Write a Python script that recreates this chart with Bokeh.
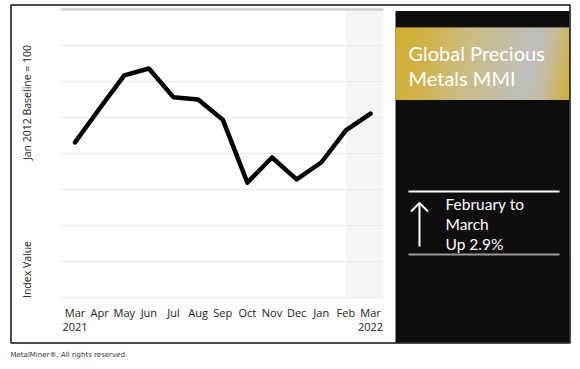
import numpy as np
from bokeh.plotting import figure
from bokeh.models import Range1d
from bokeh.core.properties import value
from bokeh.embed import file_html
from bokeh.resources import INLINE

# ---------------- data ----------------
months = ["Mar", "Apr", "May", "Jun", "Jul", "Aug", "Sep", "Oct", "Nov", "Dec", "Jan", "Feb", "Mar"]
years = ["2021", "", "", "", "", "", "", "", "", "", "", "", "2022"]
index_values = [1831, 1925, 2017, 2036, 1956, 1950, 1894, 1719, 1789, 1728, 1775, 1864, 1911]
grid_values = [1400, 1500, 1600, 1700, 1800, 1900, 2000, 2100, 2200]
y_axis_texts = ["Jan 2012 Baseline = 100", "Index Value"]
title_lines = ["Global Precious", "Metals MMI"]
change_lines = ["February to", "March", "Up 2.9%"]
footer = "MetalMiner\u00ae. All rights reserved."

idx = list(range(len(months)))

# ---------------- layout (page pixel units) ----------------
W, H = 572, 361
IDX0_PX, PX_PER_IDX = 74.5, 24.625          # x position of first month, spacing
YTOP_PX, YBOT_PX = 9.0, 297.0               # pixel rows of top / bottom gridline
YMIN, YMAX = grid_values[0], grid_values[-1]
PX_PER_Y = (YBOT_PX - YTOP_PX) / (YMAX - YMIN)

def px_to_idx(px):
    return (px - IDX0_PX) / PX_PER_IDX

X_LO, X_HI = px_to_idx(60), px_to_idx(383)

p = figure(width=W, height=H, x_range=Range1d(0, W), y_range=Range1d(H, 0),
           output_backend="svg", toolbar_location=None,
           x_axis_location=None, y_axis_location=None, min_border=0)
p.grid.visible = False
p.outline_line_color = None
p.background_fill_color = "white"
p.border_fill_color = "white"

p.extra_x_ranges = {"d": Range1d(px_to_idx(0), px_to_idx(W))}
p.extra_y_ranges = {"d": Range1d(YMIN - (H - YBOT_PX) / PX_PER_Y,
                                 YMAX + YTOP_PX / PX_PER_Y)}

# shaded latest-month region
p.quad(left=[idx[-2]], right=[X_HI], bottom=[YMIN], top=[YMAX],
       fill_color="#f5f5f5", line_color=None, x_range_name="d", y_range_name="d")

# gridlines
p.segment(x0=[X_LO] * (len(grid_values) - 1), x1=[X_HI] * (len(grid_values) - 1),
          y0=grid_values[:-1], y1=grid_values[:-1], line_color="#ebebeb", line_width=1,
          x_range_name="d", y_range_name="d")
p.segment(x0=[X_LO], x1=[X_HI], y0=[grid_values[-1]], y1=[grid_values[-1]],
          line_color="#cfcfcf", line_width=2.5, x_range_name="d", y_range_name="d")

# data line
p.line(x=idx, y=index_values, line_color="black", line_width=4.5,
       line_join="round", line_cap="round", x_range_name="d", y_range_name="d")

# x tick labels
p.text(x=idx, y=[312] * len(idx), text=months, x_range_name="d",
       text_align="center", text_baseline="middle",
       text_font=value("Open Sans"), text_font_size="11px", text_color="#222222")
p.text(x=idx, y=[326] * len(idx), text=years, x_range_name="d",
       text_align="center", text_baseline="middle",
       text_font=value("Open Sans"), text_font_size="11px", text_color="#222222")

# y axis labels
p.text(x=[26, 26], y=[102, 269], text=y_axis_texts, angle=np.pi / 2,
       text_align="center", text_baseline="middle",
       text_font=value("Open Sans"), text_font_size="10.5px", text_color="#222222")

# right panel
p.quad(left=[395], right=[569], top=[10.5], bottom=[342], fill_color="#0e0e0e", line_color=None)

# gold/silver gradient band drawn as slanted strips clipped to the band
BX0, BX1, BY0, BY1 = 395.0, 569.0, 27.0, 99.5
SLANT = 0.2 * (BY1 - BY0)
stops_t = [395, 430, 470, 500, 538, 555, 584]
stops_c = np.array([[213, 176, 50], [210, 180, 75], [205, 190, 130], [200, 192, 160],
                    [193, 193, 193], [200, 190, 160], [214, 175, 50]], dtype=float)

def clip_x(poly, xmin, xmax):
    def clip(pts, inside, inter):
        out = []
        for i in range(len(pts)):
            a, b = pts[i - 1], pts[i]
            ia, ib = inside(a), inside(b)
            if ib:
                if not ia:
                    out.append(inter(a, b))
                out.append(b)
            elif ia:
                out.append(inter(a, b))
        return out
    def ix(xv):
        def f(a, b):
            t = (xv - a[0]) / (b[0] - a[0])
            return (xv, a[1] + t * (b[1] - a[1]))
        return f
    pts = clip(poly, lambda q: q[0] >= xmin, ix(xmin))
    if pts:
        pts = clip(pts, lambda q: q[0] <= xmax, ix(xmax))
    return pts

xs_list, ys_list, cols = [], [], []
step = 1.5
t = BX0
while t < BX1 + SLANT:
    t0, t1 = t, t + step + 0.6
    poly = [(t0, BY0), (t1, BY0), (t1 - SLANT, BY1), (t0 - SLANT, BY1)]
    pts = clip_x(poly, BX0, BX1)
    if len(pts) >= 3:
        tm = t + step / 2
        c = [int(np.interp(tm, stops_t, stops_c[:, k])) for k in range(3)]
        xs_list.append([q[0] for q in pts])
        ys_list.append([q[1] for q in pts])
        cols.append("#%02x%02x%02x" % tuple(c))
    t += step
p.patches(xs=xs_list, ys=ys_list, fill_color=cols, line_color=None)

p.text(x=[408, 408], y=[52, 77], text=title_lines, text_align="left", text_baseline="middle",
       text_font=value("Lato"), text_font_size="20px", text_color="white")

p.segment(x0=[408], x1=[559], y0=[191], y1=[191], line_color="white", line_width=2)
p.segment(x0=[408], x1=[559], y0=[254], y1=[254], line_color="#9a9a9a", line_width=2)
p.segment(x0=[419], x1=[419], y0=[246], y1=[204], line_color="white", line_width=2)
p.line(x=[410.5, 419, 427.5], y=[211, 202.5, 211], line_color="white", line_width=2)
p.text(x=[445] * 3, y=[203, 223, 243], text=change_lines, text_align="left", text_baseline="middle",
       text_font=value("Lato"), text_font_size="15.5px", text_color="white")

# outer frame
p.quad(left=[10.5], right=[569.5], top=[4.5], bottom=[342.5], fill_color=None,
       line_color="#111111", line_width=1.5)

# footer
p.text(x=[10], y=[354], text=[footer], text_align="left", text_baseline="middle",
       text_font=value("DejaVu Sans"), text_font_size="7px", text_color="#333333")

open("out.html", "w").write(file_html(p, INLINE))
